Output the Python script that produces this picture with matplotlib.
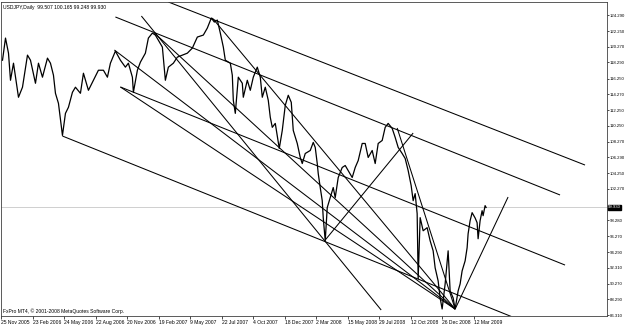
import matplotlib
matplotlib.use("Agg")
import matplotlib.pyplot as plt
import matplotlib.transforms as mtransforms

# ---- data (bar index, price) ----
bars = [2, 8, 14, 18, 24, 34, 42, 52, 58, 68, 74, 82, 92, 98, 104, 108, 114, 122, 128, 134,
        142, 148, 158, 164, 174, 184, 194, 204, 212, 218, 228, 238, 248, 254, 262, 264, 272, 278, 288, 294,
        302, 308, 314, 322, 328, 334, 344, 352, 362, 372, 382, 392, 404, 412, 420, 426, 432, 438, 444, 448,
        458, 462, 464, 468, 474, 482, 484, 492, 498, 504, 512, 518, 522, 528, 534, 538, 542, 548, 556, 562,
        568, 574, 580, 584, 592, 598, 602, 608, 618, 624, 628, 632, 634, 638, 642, 644, 648, 652, 658, 664,
        668, 674, 682, 688, 694, 702, 708, 714, 722, 728, 734, 742, 748, 754, 762, 768, 774, 782, 788, 794,
        802, 808, 814, 820, 824, 828, 832, 834, 838, 844, 852, 858, 864, 868, 874, 878, 882, 888, 894, 898,
        904, 908, 914, 918, 922, 928, 932, 934, 938, 942, 948, 952, 954, 958, 962, 964, 968, 970]
prices = [118.57, 121.37, 119.46, 116.03, 118.19, 113.88, 115.15, 119.21, 118.57, 115.65, 118.19, 116.42,
          118.83, 118.19, 116.67, 114.38, 113.11, 109.05, 111.84, 112.61,
          114.51, 115.15, 114.38, 116.92, 114.76, 116.03, 117.30, 117.30, 116.42, 118.19, 119.72, 118.57,
          117.69, 118.19, 116.42, 114.51, 117.30, 118.32, 119.46, 121.37,
          122.00, 121.75, 121.11, 120.23, 116.03, 117.69, 118.19, 118.96, 119.21, 119.46, 120.10, 121.50,
          121.75, 122.64, 123.91, 123.40, 123.65, 122.00, 120.23, 118.57,
          118.19, 116.67, 113.49, 111.84, 116.42, 115.65, 113.88, 116.03, 114.76, 116.42, 117.69, 116.42,
          113.88, 115.15, 113.49, 111.34, 110.07, 110.57, 107.40, 109.68,
          112.86, 114.13, 113.24, 109.68, 108.03, 106.26, 105.49, 106.76, 107.14, 108.16, 107.53, 105.49,
          104.22, 102.45, 100.79, 98.64, 95.71, 99.91, 101.18, 102.45,
          101.18, 103.72, 104.99, 105.24, 104.60, 103.72, 104.99, 105.87, 108.03, 108.03, 106.26, 107.14,
          105.49, 108.03, 108.41, 110.07, 110.57, 109.94, 108.80, 107.53,
          106.76, 106.13, 104.60, 102.70, 100.79, 101.68, 99.14, 90.89, 98.64, 96.98, 97.37, 95.71,
          94.44, 92.29, 90.63, 88.48, 87.08, 90.25, 94.44, 89.36,
          88.48, 87.07, 89.36, 90.25, 91.90, 93.17, 94.83, 96.60, 98.25, 99.27, 98.60, 98.00, 95.97, 98.25,
          99.52, 98.89, 100.16, 99.93]

# trend lines: ((bar, price), (bar, price))
trend_lines = [
    ((334, 125.94), (1168, 105.30)),
    ((228, 124.04), (1118, 101.51)),
    ((238, 115.18), (1128, 92.64)),
    ((122, 108.97), (1038, 85.68)),
    ((422, 123.91), (908, 87.07)),
    ((280, 124.16), (760, 86.95)),
    ((306, 122.01), (908, 87.07)),
    ((226, 119.86), (908, 87.07)),
    ((238, 115.18), (908, 87.07)),
    ((648, 95.81), (824, 109.35)),
    ((792, 109.99), (908, 87.07)),
    ((908, 87.07), (1014, 101.25)),
]

last_price = 99.93
y_ticks = [124.290, 122.250, 120.270, 118.290, 116.250, 114.270, 112.250, 110.250, 108.270,
           106.290, 104.250, 102.270, 98.280, 96.270, 94.290, 92.310, 90.270, 88.290, 86.310]
x_tick_labels = ["25 Nov 2005", "23 Feb 2006", "24 May 2006", "22 Aug 2006", "20 Nov 2006",
                 "19 Feb 2007", "9 May 2007", "22 Jul 2007", "4 Oct 2007", "18 Dec 2007",
                 "2 Mar 2008", "15 May 2008", "29 Jul 2008", "12 Oct 2008", "26 Dec 2008",
                 "12 Mar 2009"]
bars_per_label = 63
title_text = "USDJPY,Daily  99.507 100.165 99.248 99.930"
footer_text = "FxPro MT4, \u00a9 2001-2008 MetaQuotes Software Corp."

# ---- drawing ----
plt.rcParams['font.family'] = ['Liberation Sans', 'DejaVu Sans']
FS = 3.6
FSY = 3.05
W, H = 625, 325
fig = plt.figure(figsize=(W / 100, H / 100), dpi=100)
fig.patch.set_facecolor('white')
ax = fig.add_axes([1.5 / W, (H - 316) / H, 605 / W, 314.5 / H])
ax.set_xlim(1, 1211)
ax.set_ylim(86.19, 126.0)

ax.axhline(last_price, color='#c8c8c8', lw=0.6, zorder=1)

for (x0, y0), (x1, y1) in trend_lines:
    ax.plot([x0, x1], [y0, y1], color='black', lw=0.75, zorder=2, solid_capstyle='butt')

ax.plot(bars, prices, color='black', lw=0.9, zorder=3)

for s in ax.spines.values():
    s.set_color('#404040')
    s.set_linewidth(0.6)

ax.yaxis.tick_right()
ax.set_yticks(y_ticks)
ax.set_yticklabels([f"{v:.3f}" for v in y_ticks])
ax.tick_params(axis='y', direction='out', length=1.5, width=0.5, pad=0.6,
               labelsize=FSY, colors='black')

ax.set_xticks([i * bars_per_label for i in range(len(x_tick_labels))])
ax.set_xticklabels(x_tick_labels)
ax.tick_params(axis='x', direction='out', length=2.0, width=0.5, pad=0.6,
               labelsize=FS, colors='black')
for lbl in ax.get_xticklabels():
    lbl.set_horizontalalignment('left')

trans = mtransforms.blended_transform_factory(ax.transAxes, ax.transData)
ax.text(1.0025, last_price, f"{last_price:.3f}", transform=trans, fontsize=FSY,
        color='white', va='center', ha='left',
        bbox=dict(boxstyle='square,pad=0.12', fc='black', ec='black'), zorder=5, clip_on=False)

fig.text(3 / W, 1 - 7 / H, title_text, fontsize=FS, va='center', ha='left', color='black')
fig.text(3 / W, 1 - 311 / H, footer_text, fontsize=FS, va='center', ha='left', color='black')

fig.savefig("out.png", dpi=100, facecolor='white')
